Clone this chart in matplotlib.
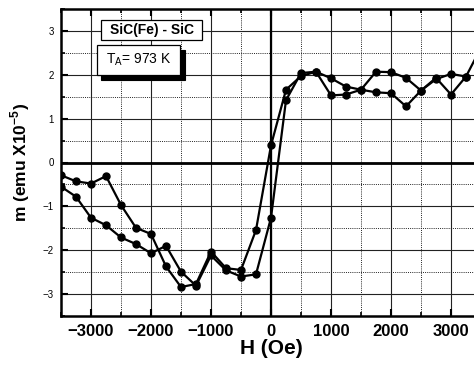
import matplotlib
matplotlib.use("Agg")
import matplotlib.pyplot as plt
from matplotlib.patches import Rectangle
from matplotlib.ticker import MultipleLocator

plt.rcParams['font.family'] = ['Liberation Sans', 'DejaVu Sans']
plt.rcParams['mathtext.fontset'] = 'custom'
plt.rcParams['mathtext.rm'] = 'Liberation Sans'
plt.rcParams['mathtext.bf'] = 'Liberation Sans:bold'

# Field values (Oe)
h_a = [-3500, -3250, -3000, -2750, -2500, -2250, -2000, -1750, -1500, -1250,
       -1000, -750, -500, -250, 0, 250, 500, 750, 1000, 1250, 1500, 1750,
       2000, 2250, 2500, 2750, 3000, 3250, 3500]
m_a = [-0.29, -0.43, -0.48, -0.31, -0.97, -1.49, -1.63, -2.37, -2.84, -2.77,
       -2.03, -2.41, -2.45, -1.54, 0.39, 1.66, 1.97, 2.07, 1.92, 1.73, 1.66, 2.07,
       2.06, 1.93, 1.64, 1.93, 1.55, 1.96, 2.62]
h_b = [-3500, -3250, -3000, -2750, -2500, -2250, -2000, -1750, -1500, -1250,
       -1000, -750, -500, -250, 0, 250, 500, 750, 1000, 1250, 1500, 1750,
       2000, 2250, 2500, 2750, 3000, 3250]
m_b = [-0.55, -0.78, -1.26, -1.43, -1.71, -1.86, -2.07, -1.90, -2.49, -2.81,
       -2.12, -2.46, -2.60, -2.55, -1.26, 1.42, 2.04, 2.07, 1.53, 1.55, 1.66, 1.60,
       1.58, 1.28, 1.64, 1.90, 2.02, 1.96]

xticks = [-3000, -2000, -1000, 0, 1000, 2000, 3000]
yticks = [-3, -2, -1, 0, 1, 2, 3]

W, H = 474, 371
fig = plt.figure(figsize=(W / 100, H / 100), dpi=100)
ax_l, ax_r, ax_t, ax_b = 61, 481, 9, 316
ax = fig.add_axes([ax_l / W, (H - ax_b) / H, (ax_r - ax_l) / W, (ax_b - ax_t) / H])

ax.set_xlim(-3500, 3500)
ax.set_ylim(-3.5, 3.5)
ax.set_xticks(xticks)
ax.set_yticks(yticks)
ax.xaxis.set_minor_locator(MultipleLocator(500))
ax.yaxis.set_minor_locator(MultipleLocator(0.5))

ax.grid(which='major', color='#222222', linewidth=0.8, linestyle='-', zorder=0)
ax.grid(which='minor', color='#222222', linewidth=0.7, linestyle=(0, (1, 1.2)), zorder=0)
ax.set_axisbelow(True)
ax.axhline(0, color='black', linewidth=2.0, zorder=1)
ax.axvline(0, color='black', linewidth=1.6, zorder=1)

ax.plot(h_a, m_a, color='black', linewidth=1.6, marker='o', markersize=5, zorder=3)
ax.plot(h_b, m_b, color='black', linewidth=1.6, marker='o', markersize=5, zorder=3)

for side in ['left', 'bottom', 'top']:
    ax.spines[side].set_linewidth(1.8)
ax.spines['right'].set_visible(False)

ax.tick_params(which='major', direction='in', length=5, width=1.5, top=True,
               bottom=True, left=True, right=False)
ax.tick_params(which='minor', direction='in', length=3, width=1.2, top=True,
               bottom=True, left=True, right=False)
ax.tick_params(axis='x', which='major', labelsize=12, pad=6)
ax.tick_params(axis='y', which='major', labelsize=7, pad=5)
for lab in ax.get_xticklabels():
    lab.set_fontweight('bold')

ax.set_xlabel('H (Oe)', fontsize=15, fontweight='bold', labelpad=0)
ax.set_ylabel(r'm (emu X10$^{\mathbf{-5}}$)', fontsize=12.5, fontweight='bold', labelpad=8)

def px2ax(x, y):
    return ((x - ax_l) / (ax_r - ax_l), (ax_b - y) / (ax_b - ax_t))

# SiC(Fe) - SiC box
x0, y0 = px2ax(101, 40)
x1, y1 = px2ax(202, 20)
ax.add_patch(Rectangle((x0, y0), x1 - x0, y1 - y0, transform=ax.transAxes,
                       facecolor='white', edgecolor='black', linewidth=0.9, zorder=5))
ax.text((x0 + x1) / 2, (y0 + y1) / 2, 'SiC(Fe) - SiC', transform=ax.transAxes,
        ha='center', va='center', fontsize=10, fontweight='bold', zorder=6)

# T_A box with shadow
sx0, sy0 = px2ax(101, 80)
sx1, sy1 = px2ax(185, 50)
ax.add_patch(Rectangle((sx0, sy0), sx1 - sx0, sy1 - sy0, transform=ax.transAxes,
                       facecolor='black', edgecolor='black', linewidth=0.8, zorder=5))
tx0, ty0 = px2ax(97, 75)
tx1, ty1 = px2ax(180, 45)
ax.add_patch(Rectangle((tx0, ty0), tx1 - tx0, ty1 - ty0, transform=ax.transAxes,
                       facecolor='white', edgecolor='black', linewidth=0.9, zorder=6))
ax.text((tx0 + tx1) / 2, (ty0 + ty1) / 2, r'T$_\mathregular{A}$= 973 K', transform=ax.transAxes,
        ha='center', va='center', fontsize=10, zorder=7)

fig.savefig('out.png', dpi=100)
